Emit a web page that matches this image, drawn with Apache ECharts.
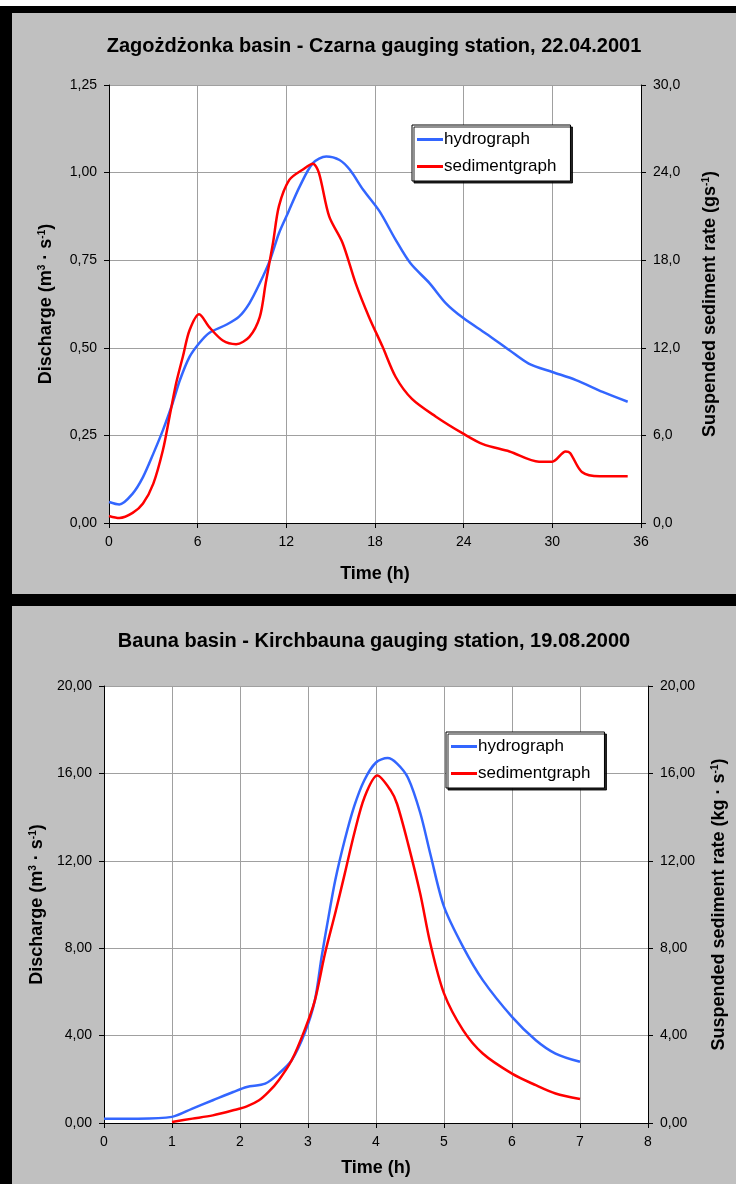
<!DOCTYPE html>
<html>
<head>
<meta charset="utf-8">
<script src="https://cdn.jsdelivr.net/npm/echarts@6/dist/echarts.min.js"></script>
<style>
  html, body { margin: 0; padding: 0; background: #fff; }
  #frame { position: absolute; left: 0; top: 6px; width: 736px; height: 1178px; background: #000; }
  .panel { position: absolute; left: 12px; width: 724px; background: #c0c0c0; }
  #top { top: 13px; height: 581px; }
  #bottom { top: 606px; height: 578px; }
</style>
</head>
<body>
<div id="frame"></div>
<div id="top" class="panel"></div>
<div id="bottom" class="panel"></div>
<script>
// Zagożdżonka / Czarna, 22.04.2001
const czarnaHydroTime = [0, 0.7, 1.6, 2.3, 3.0, 3.65, 4.3, 4.8, 5.45, 6.1, 6.8, 7.9, 8.8, 9.5, 10.2, 10.9, 11.5, 12.1, 12.9, 13.8, 14.7, 15.6, 16.3, 17.2, 18.3, 19.4, 20.4, 21.7, 22.8, 24.0, 25.5, 27.1, 28.4, 30.0, 31.6, 33.4, 35.1]
const czarnaHydro = [0.060, 0.053, 0.084, 0.131, 0.198, 0.265, 0.341, 0.408, 0.474, 0.513, 0.543, 0.565, 0.589, 0.627, 0.684, 0.751, 0.827, 0.884, 0.960, 1.027, 1.046, 1.036, 1.008, 0.951, 0.890, 0.808, 0.741, 0.684, 0.627, 0.584, 0.541, 0.493, 0.455, 0.431, 0.408, 0.374, 0.346]
const czarnaSedTime = [0, 0.7, 1.6, 2.3, 3.0, 3.65, 4.1, 4.55, 5.0, 5.45, 6.1, 6.8, 7.7, 8.6, 9.5, 10.2, 10.6, 11.1, 11.5, 12.2, 13.1, 13.8, 14.2, 14.9, 15.8, 16.7, 17.6, 18.5, 19.4, 20.5, 22.1, 24.0, 25.3, 27.1, 29.1, 30.0, 30.9, 31.2, 32.0, 33.2, 35.1]
const czarnaSed = [0.48, 0.34, 0.69, 1.33, 2.7, 5.0, 7.3, 9.6, 11.4, 13.2, 14.3, 13.4, 12.5, 12.25, 12.75, 14.1, 16.4, 19.2, 21.7, 23.5, 24.2, 24.6, 24.0, 21.0, 19.2, 16.4, 14.1, 12.1, 10.0, 8.5, 7.3, 6.1, 5.4, 4.9, 4.2, 4.2, 4.9, 4.8, 3.5, 3.2, 3.2]

// Bauna / Kirchbauna, 19.08.2000
const baunaHydroTime = [0, 0.5, 1.0, 1.3, 1.6, 1.9, 2.1, 2.37, 2.57, 2.76, 2.95, 3.1, 3.2, 3.3, 3.4, 3.54, 3.68, 3.83, 4.0, 4.17, 4.31, 4.47, 4.65, 4.8, 5.0, 5.28, 5.57, 6.0, 6.35, 6.64, 7.0]
const baunaHydro = [0.2, 0.2, 0.28, 0.66, 1.04, 1.42, 1.65, 1.8, 2.26, 2.87, 4.1, 5.6, 7.6, 9.4, 11.1, 12.95, 14.5, 15.7, 16.5, 16.7, 16.45, 15.8, 14.2, 12.3, 9.9, 8.06, 6.54, 4.86, 3.79, 3.18, 2.8]
const baunaSedTime = [1.0, 1.3, 1.6, 1.9, 2.1, 2.28, 2.42, 2.57, 2.76, 2.95, 3.1, 3.25, 3.4, 3.54, 3.68, 3.83, 4.02, 4.22, 4.31, 4.47, 4.65, 4.8, 5.0, 5.28, 5.57, 6.0, 6.35, 6.64, 7.0]
const baunaSed = [0.05, 0.2, 0.35, 0.58, 0.76, 1.04, 1.42, 1.96, 2.87, 4.25, 5.6, 7.76, 9.6, 11.4, 13.25, 14.9, 15.9, 15.2, 14.6, 12.8, 10.5, 8.2, 5.93, 4.25, 3.18, 2.26, 1.73, 1.35, 1.1]

const FONT = "'Liberation Sans', Arial, sans-serif"
const GRID_COLOR = '#a0a0a0'

function pairs(xs, ys) {
  return xs.map((x, i) => [x, ys[i]])
}

function comma(digits) {
  return v => v.toFixed(digits).replace('.', ',')
}

function nameStyle() {
  return {
    fontFamily: FONT,
    fontWeight: 'bold',
    fontSize: 18,
    color: '#000',
    rich: {
      sup: { fontFamily: FONT, fontWeight: 'bold', fontSize: 10, verticalAlign: 'top', color: '#000' }
    }
  }
}

function valueAxis(opts) {
  return Object.assign({
    type: 'value',
    nameLocation: 'middle',
    nameTextStyle: nameStyle(),
    axisLine: { show: true, lineStyle: { color: '#000', width: 1 } },
    axisTick: { show: true, length: 5, lineStyle: { color: '#000' } },
    axisLabel: { fontFamily: FONT, fontSize: 14, color: '#000', margin: 12 },
    splitLine: { show: true, lineStyle: { color: GRID_COLOR, width: 1 } }
  }, opts)
}

function buildOption(cfg) {
  return {
    animation: false,
    title: {
      text: cfg.title,
      left: 'center',
      top: cfg.titleTop,
      textStyle: { fontFamily: FONT, fontWeight: 'bold', fontSize: 20, color: '#000' }
    },
    grid: Object.assign({ show: true, backgroundColor: '#fff', borderWidth: 0 }, cfg.grid),
    legend: {
      orient: 'vertical',
      left: cfg.legendLeft,
      top: cfg.legendTop,
      data: [
        { name: 'hydrograph', icon: 'rect' },
        { name: 'sedimentgraph', icon: 'rect' }
      ],
      itemWidth: 26,
      itemHeight: 3,
      itemGap: 10,
      padding: [6, 14, 6, 5],
      backgroundColor: '#fff',
      borderColor: '#000',
      borderWidth: 1,
      shadowColor: 'rgba(0,0,0,0.85)',
      shadowBlur: 0,
      shadowOffsetX: 2,
      shadowOffsetY: 2,
      textStyle: { fontFamily: FONT, fontSize: 17, color: '#000', padding: [0, 0, 0, -4] }
    },
    xAxis: valueAxis({
      min: 0,
      max: cfg.xMax,
      interval: cfg.xInterval,
      name: 'Time (h)',
      nameGap: cfg.xNameGap,
      axisLabel: { fontFamily: FONT, fontSize: 14, color: '#000', margin: 12 }
    }),
    yAxis: [
      valueAxis({
        min: 0,
        max: cfg.yMax,
        interval: cfg.yInterval,
        name: cfg.leftName,
        nameGap: cfg.leftGap,
        nameRotate: 90,
        axisLabel: { fontFamily: FONT, fontSize: 14, color: '#000', margin: 12, formatter: comma(2) }
      }),
      valueAxis({
        position: 'right',
        min: 0,
        max: cfg.y2Max,
        interval: cfg.y2Interval,
        name: cfg.rightName,
        nameGap: cfg.rightGap,
        nameRotate: 90,
        splitLine: { show: false },
        axisLabel: { fontFamily: FONT, fontSize: 14, color: '#000', margin: 12, formatter: comma(cfg.y2Digits) }
      })
    ],
    series: [
      {
        name: 'hydrograph',
        type: 'line',
        smooth: 0.3,
        showSymbol: false,
        yAxisIndex: 0,
        color: '#3366ff',
        lineStyle: { color: '#3366ff', width: 2.5 },
        data: cfg.hydro
      },
      {
        name: 'sedimentgraph',
        type: 'line',
        smooth: 0.3,
        showSymbol: false,
        yAxisIndex: 1,
        color: '#ff0000',
        lineStyle: { color: '#ff0000', width: 2.5 },
        data: cfg.sed
      }
    ]
  }
}

const topChart = echarts.init(document.getElementById('top'))
topChart.setOption(buildOption({
  title: 'Zagożdżonka basin - Czarna gauging station, 22.04.2001',
  titleTop: 18,
  grid: { left: 97, right: 95, top: 72, bottom: 71 },
  legendLeft: 400,
  legendTop: 112,
  xMax: 36, xInterval: 6, xNameGap: 42,
  yMax: 1.25, yInterval: 0.25,
  y2Max: 30, y2Interval: 6, y2Digits: 1,
  leftName: 'Discharge (m{sup|3} · s{sup|-1})',
  leftGap: 54,
  rightName: 'Suspended sediment rate (gs{sup|-1})',
  rightGap: 60,
  hydro: pairs(czarnaHydroTime, czarnaHydro),
  sed: pairs(czarnaSedTime, czarnaSed)
}))

const bottomChart = echarts.init(document.getElementById('bottom'))
bottomChart.setOption(buildOption({
  title: 'Bauna basin - Kirchbauna gauging station, 19.08.2000',
  titleTop: 20,
  grid: { left: 92, right: 83, top: 80, bottom: 61 },
  legendLeft: 434,
  legendTop: 126,
  xMax: 8, xInterval: 1, xNameGap: 36,
  yMax: 20, yInterval: 4,
  y2Max: 20, y2Interval: 4, y2Digits: 2,
  leftName: 'Discharge (m{sup|3} · s{sup|-1})',
  leftGap: 56,
  rightName: 'Suspended sediment rate (kg · s{sup|-1})',
  rightGap: 62,
  hydro: pairs(baunaHydroTime, baunaHydro),
  sed: pairs(baunaSedTime, baunaSed)
}))
</script>
</body>
</html>
